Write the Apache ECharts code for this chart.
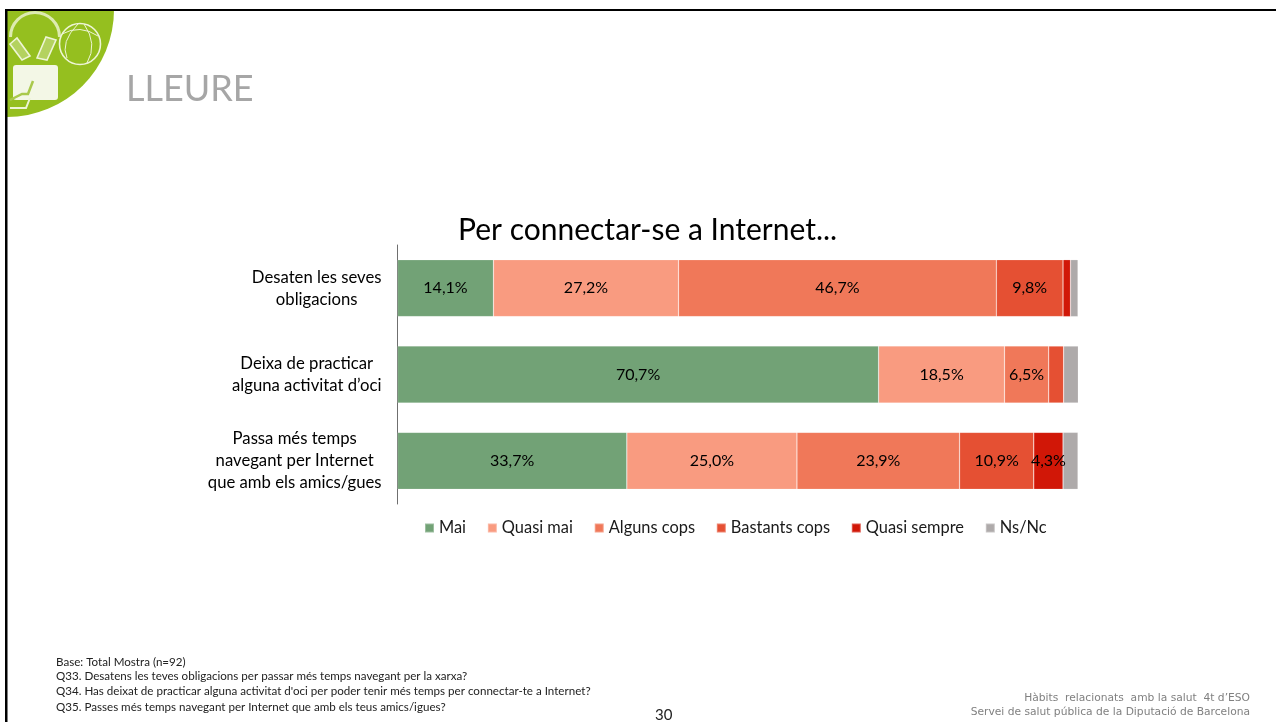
<!DOCTYPE html>
<html>
<head>
<meta charset="utf-8">
<style>html,body{margin:0;padding:0;background:#fff}#c{width:1276px;height:722px}</style>
<script src="https://cdn.jsdelivr.net/npm/echarts@6/dist/echarts.min.js"></script>
</head>
<body>
<div id="c"></div>
<script>
const categories = ['Desaten les seves\nobligacions', 'Deixa de practicar\nalguna activitat d’oci', 'Passa més temps\nnavegant per Internet\nque amb els amics/gues'];
const seriesNames = ['Mai', 'Quasi mai', 'Alguns cops', 'Bastants cops', 'Quasi sempre', 'Ns/Nc'];
const mai = [14.1, 70.7, 33.7];
const quasiMai = [27.2, 18.5, 25.0];
const algunsCops = [46.7, 6.5, 23.9];
const bastantsCops = [9.8, 2.2, 10.9];
const quasiSempre = [1.1, 0, 4.3];
const nsNc = [1.1, 2.2, 2.2];
const colors = ['#72A276', '#F99B80', '#F07859', '#E55033', '#D11707', '#AEAAAA'];
const LABEL_FONT = '16.7px Lato';
const minLabelled = 4;

const values = [mai, quasiMai, algunsCops, bastantsCops, quasiSempre, nsNc];
const ctx = document.createElement('canvas').getContext('2d');
ctx.font = LABEL_FONT;
const catData = categories.map(c => {
  const w = Math.max(...c.split('\n').map(t => ctx.measureText(t).width));
  return {value: c, textStyle: {align: 'center', padding: [0, w, 0, 0]}};
});
const footL = {fontFamily: 'Lato', fontSize: 11.6, fill: '#222'};
const footR = {fontFamily: 'DejaVu Sans', fontSize: 10.7, fill: '#808080', textAlign: 'right'};
const ink = {stroke: '#EEF5D6', fill: 'none', lineWidth: 1.6};
const curve = (x1, y1, cpx1, cpy1, x2, y2) => ({type: 'bezierCurve', z: 7, shape: {x1, y1, cpx1, cpy1, x2, y2}, style: {...ink, lineWidth: 1}});

const chart = echarts.init(document.getElementById('c'), null, {renderer: 'canvas'});
chart.setOption({
  animation: false,
  color: colors,
  title: {text: 'Per connectar-se a Internet...', left: 453, top: 210,
    textStyle: {fontFamily: 'Lato', fontSize: 30, fontWeight: 'normal', color: '#000'}},
  legend: {
    data: seriesNames, left: 419, top: 515, itemWidth: 9, itemHeight: 9, itemGap: 20.8,
    icon: 'rect', textStyle: {fontFamily: 'Lato', fontSize: 16.4, color: '#1a1a1a'}
  },
  grid: {left: 397.5, right: 198, top: 245, bottom: 218},
  xAxis: {type: 'value', min: 0, max: 100, show: false},
  yAxis: {
    type: 'category', inverse: true, data: catData,
    axisLine: {show: true, lineStyle: {color: '#6f6f6f', width: 1}},
    axisTick: {show: false},
    axisLabel: {margin: 16, fontFamily: 'Lato', fontSize: 16.7, color: '#000', lineHeight: 22}
  },
  series: seriesNames.map((name, i) => ({
    name, type: 'bar', stack: 'total', barWidth: 57,
    itemStyle: {color: colors[i], borderColor: 'rgba(255,255,255,0.3)', borderWidth: 0.6},
    label: {
      show: true, position: 'inside', fontFamily: 'Lato', fontSize: 16, color: '#000',
      formatter: p => p.value >= minLabelled && i < 5 ? p.value.toFixed(1).replace('.', ',') + '%' : ''
    },
    data: values[i]
  })),
  graphic: [
    {type: 'sector', z: 5, shape: {cx: 7, cy: 10, r0: 0, r: 107, startAngle: 0, endAngle: Math.PI / 2}, style: {fill: '#95BF1F'}},
    {type: 'rect', z: 6, shape: {x: 5, y: 9, width: 1271, height: 2}, style: {fill: '#000'}},
    {type: 'rect', z: 6, shape: {x: 5, y: 9, width: 2.5, height: 713}, style: {fill: '#000'}},
    {type: 'arc', z: 7, shape: {cx: 35, cy: 37, r: 24.5, startAngle: Math.PI, endAngle: 2 * Math.PI}, style: {...ink, stroke: '#DDEBB0', lineWidth: 3}},
    {type: 'polygon', z: 7, shape: {points: [[10, 44], [17, 38], [30, 56], [22, 60]]}, style: {...ink, fill: 'rgba(238,245,214,0.35)'}},
    {type: 'polygon', z: 7, shape: {points: [[37, 58], [46, 37], [56, 40], [47, 60]]}, style: {...ink, fill: 'rgba(238,245,214,0.35)'}},
    {type: 'circle', z: 7, shape: {cx: 80, cy: 44, r: 20.5}, style: ink},
    curve(62, 34, 80, 24, 98, 36),
    curve(78, 24, 60, 42, 67, 58),
    curve(84, 24, 98, 44, 87, 63),
    {type: 'rect', z: 7, shape: {x: 13, y: 65, width: 45, height: 35, r: 3}, style: {fill: '#F3F7E6'}},
    {type: 'polyline', z: 8, shape: {points: [[10, 100], [22, 94], [28, 94], [33, 81]]}, style: {stroke: '#A9C94C', fill: 'none', lineWidth: 2.5}},
    {type: 'polyline', z: 8, shape: {points: [[10, 108], [26, 108], [30, 98]]}, style: {stroke: '#EEF5D6', fill: 'none', lineWidth: 2}},
    {type: 'text', z: 7, style: {text: 'LLEURE', x: 126, y: 71, fontFamily: 'Lato', fontSize: 36, fill: '#A6A6A6'}},
    {type: 'text', style: {text: 'Base: Total Mostra (n=92)', x: 56, y: 656, ...footL}},
    {type: 'text', style: {text: 'Q33. Desatens les teves obligacions per passar més temps navegant per la xarxa?', x: 56, y: 670, ...footL}},
    {type: 'text', style: {text: "Q34. Has deixat de practicar alguna activitat d'oci per poder tenir més temps per connectar-te a Internet?", x: 56, y: 685, ...footL}},
    {type: 'text', style: {text: 'Q35. Passes més temps navegant per Internet que amb els teus amics/igues?', x: 56, y: 701, ...footL}},
    {type: 'text', style: {text: '30', x: 655, y: 708, fontFamily: 'Lato', fontSize: 15, fill: '#222'}},
    {type: 'text', style: {text: 'Hàbits  relacionats  amb la salut  4t d’ESO', x: 1250, y: 693, ...footR}},
    {type: 'text', style: {text: 'Servei de salut pública de la Diputació de Barcelona', x: 1250, y: 707, ...footR}}
  ]
});
</script>
</body>
</html>
